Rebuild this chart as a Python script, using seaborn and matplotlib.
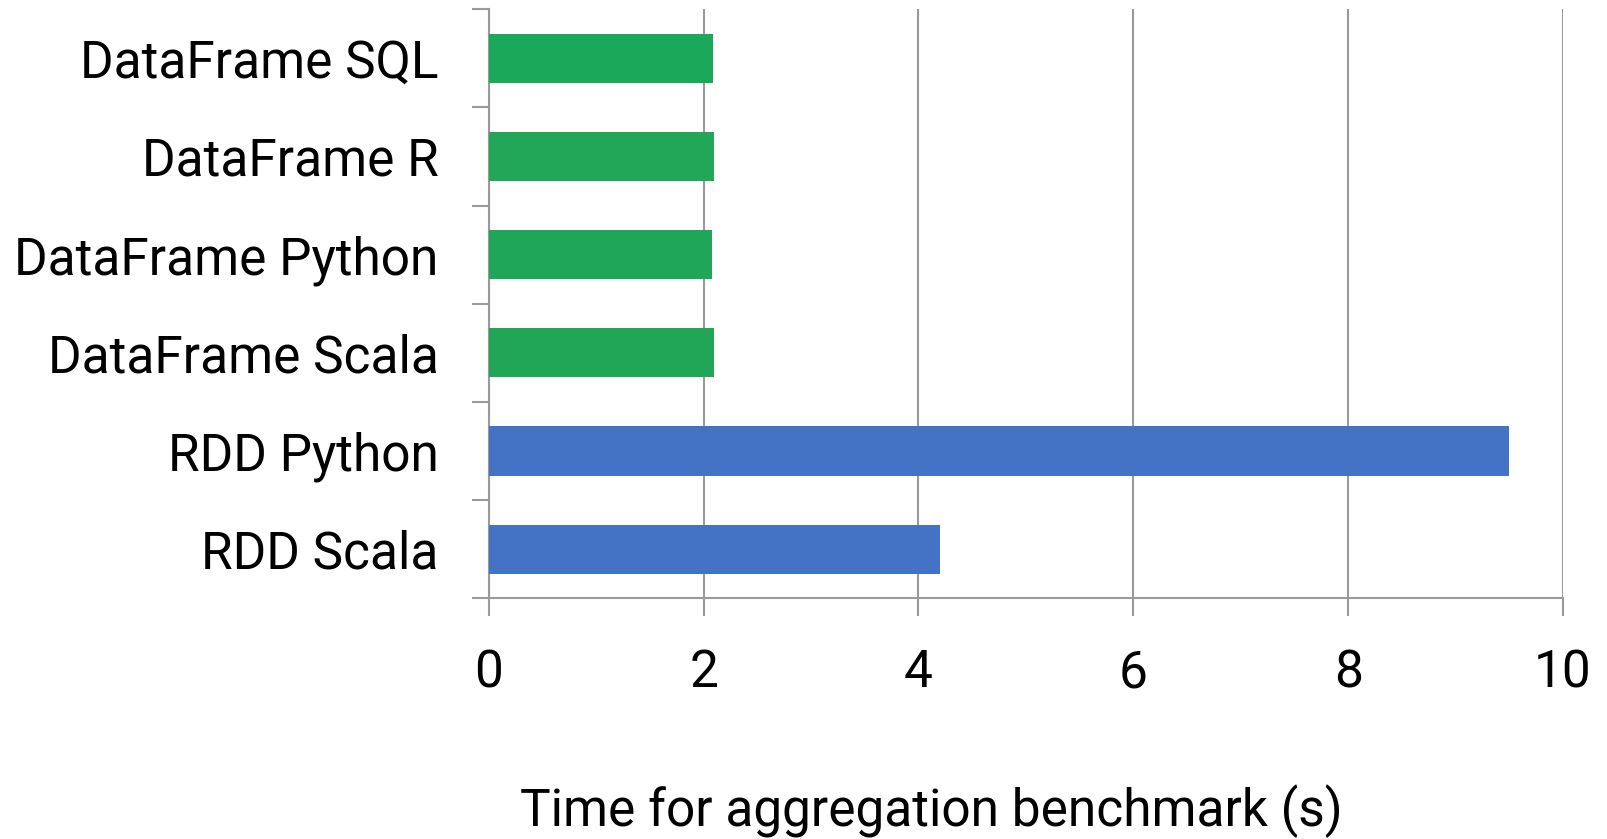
import matplotlib
matplotlib.use("Agg")
import matplotlib.pyplot as plt
import seaborn as sns
import pandas as pd

# chart data
categories = ['DataFrame SQL', 'DataFrame R', 'DataFrame Python',
              'DataFrame Scala', 'RDD Python', 'RDD Scala']
times = [2.09, 2.10, 2.08, 2.10, 9.5, 4.2]
bar_colors = ['#1ba85a', '#22a657', '#1fa658', '#21a657', '#4472c4', '#4472c4']
xticks = [0, 2, 4, 6, 8, 10]

df = pd.DataFrame({'impl': categories, 'time': times})

sns.set_style('white')
plt.rcParams['font.family'] = ['Roboto', 'DejaVu Sans']
plt.rcParams['text.color'] = 'black'
plt.rcParams['xtick.labelcolor'] = 'black'
plt.rcParams['ytick.labelcolor'] = 'black'

fig = plt.figure(figsize=(16.08, 8.39), dpi=100)
ax = fig.add_axes([0.304, 0.287, 0.668, 0.702])

sns.barplot(data=df, x='time', y='impl', hue='impl', palette=bar_colors,
            orient='h', width=0.5, legend=False, saturation=1, linewidth=0,
            ax=ax, zorder=3)

ax.set_xlim(0, 10)
ax.set_ylim(5.5, -0.5)
ax.set_xticks(xticks)
ax.set_xticklabels([str(t) for t in xticks])
ax.set_yticks(range(len(categories)), minor=False)
ax.set_yticks([i - 0.5 for i in range(len(categories) + 1)], minor=True)

grid_c = '#9a9a9a'
ax.xaxis.grid(True, color=grid_c, linewidth=1.5, zorder=1)
ax.yaxis.grid(False)
for s in ['top', 'right']:
    ax.spines[s].set_visible(False)
for s in ['left', 'bottom']:
    ax.spines[s].set_color(grid_c)
    ax.spines[s].set_linewidth(1.5)

ax.tick_params(axis='y', which='major', length=0, pad=36, labelsize=37)
ax.tick_params(axis='y', which='minor', length=12, width=1.5, color=grid_c, left=True)
ax.tick_params(axis='x', which='major', length=13, width=1.5, color=grid_c,
               pad=23, labelsize=37, bottom=True)

ax.set_xlabel('')
ax.set_ylabel('')
fig.text(0.579, 0.033, 'Time for aggregation benchmark (s)', fontsize=37,
         ha='center', va='center')

fig.savefig('out.png', dpi=100)
